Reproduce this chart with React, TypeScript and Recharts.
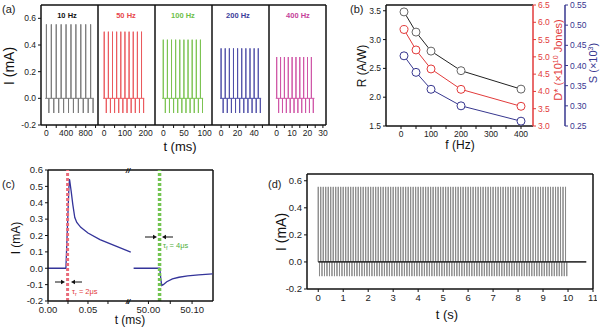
import React from 'react';
import { LineChart, Line, XAxis, YAxis, ReferenceLine } from 'recharts';

type Row = { t: number; i: number };

const FONT = '"Liberation Sans", Arial, sans-serif';

// ---- panel (a): pulse trains at different frequencies
const freqLabels = ['10 Hz', '50 Hz', '100 Hz', '200 Hz', '400 Hz'];
const freqColors = ['#7a7a7a', '#ea5a5e', '#7cc352', '#5050a8', '#cf55a6'];
const labelColors = ['#111111', '#e8474c', '#6cc04a', '#3c3c9a', '#c53f9a'];
const peaksA = [0.555, 0.5, 0.44, 0.375, 0.31];
const dipsA = [-0.11, -0.11, -0.11, -0.11, -0.11];
const onTimesA = [
  [0, 100, 200, 300, 400, 500, 600, 700, 800, 900],
  [0, 20, 40, 60, 80, 100, 120, 140, 160, 180],
  [0, 10, 20, 30, 40, 50, 60, 70, 80, 90],
  [0, 5, 10, 15, 20, 25, 30, 35, 40, 45],
  [0, 2.5, 5, 7.5, 10, 12.5, 15, 17.5, 20, 22.5],
];
const offDelayA = [50, 10, 5, 2.5, 1.25];
const baseStartA = [-25, -5, -2.5, -1.2, -0.6];
const baseEndA = [965, 193, 96.5, 48.5, 24.5];
const domainA: [number, number][] = [[-110, 1050], [-30, 245], [-20, 118], [-11, 58], [-5, 32]];
const xTicksA = [
  [0, 200, 400, 600, 800, 1000],
  [0, 50, 100, 150, 200],
  [0, 25, 50, 75, 100],
  [0, 10, 20, 30, 40, 50],
  [0, 5, 10, 15, 20, 25, 30],
];
const xLabelsA = [[0, 400, 800], [0, 100, 200], [0, 50, 100], [0, 20, 40], [0, 10, 20, 30]];
const yTicksA = [-0.2, 0, 0.2, 0.4, 0.6];

// ---- panel (b): figures of merit vs frequency
const freqB = [10, 50, 100, 200, 400];
const responsivity = [3.48, 3.13, 2.8, 2.46, 2.14];
const detectivity = [5.79, 5.2, 4.65, 4.06, 3.57];
const sensitivity = [0.424, 0.383, 0.341, 0.3, 0.262];

// ---- panel (c): rise / fall of a single pulse
const riseT = [0, 0.0224, 0.0262, 0.0269, 0.029, 0.031, 0.0335, 0.036, 0.041, 0.05, 0.065, 0.085, 0.1035];
const riseI = [0, 0, 0.5, 0.545, 0.47, 0.39, 0.31, 0.28, 0.25, 0.215, 0.175, 0.135, 0.098];
const fallT = [49.966, 50.026, 50.0285, 50.0305, 50.034, 50.042, 50.055, 50.07, 50.09, 50.115, 50.147];
const fallI = [0, 0, -0.07, -0.105, -0.1, -0.082, -0.065, -0.055, -0.047, -0.04, -0.034];
const riseMark = 0.0245;
const fallMark = 50.0255;

// ---- panel (d): 10 s train at 10 Hz
const onTimesD = [
  0, 0.1, 0.2, 0.3, 0.4, 0.5, 0.6, 0.7, 0.8, 0.9,
  1.0, 1.1, 1.2, 1.3, 1.4, 1.5, 1.6, 1.7, 1.8, 1.9,
  2.0, 2.1, 2.2, 2.3, 2.4, 2.5, 2.6, 2.7, 2.8, 2.9,
  3.0, 3.1, 3.2, 3.3, 3.4, 3.5, 3.6, 3.7, 3.8, 3.9,
  4.0, 4.1, 4.2, 4.3, 4.4, 4.5, 4.6, 4.7, 4.8, 4.9,
  5.0, 5.1, 5.2, 5.3, 5.4, 5.5, 5.6, 5.7, 5.8, 5.9,
  6.0, 6.1, 6.2, 6.3, 6.4, 6.5, 6.6, 6.7, 6.8, 6.9,
  7.0, 7.1, 7.2, 7.3, 7.4, 7.5, 7.6, 7.7, 7.8, 7.9,
  8.0, 8.1, 8.2, 8.3, 8.4, 8.5, 8.6, 8.7, 8.8, 8.9,
  9.0, 9.1, 9.2, 9.3, 9.4, 9.5, 9.6, 9.7, 9.8, 9.9,
];
const peakD = 0.555;
const dipD = -0.105;
const offDelayD = 0.05;
const baseEndD = 10.73;
const xTicksD = [0, 1, 2, 3, 4, 5, 6, 7, 8, 9, 10, 11];

const buildPulses = (
  onTimes: number[],
  offDelay: number,
  peak: number,
  dip: number,
  start: number,
  end: number
): Row[] => {
  const rows: Row[] = [{ t: start, i: 0 }];
  onTimes.forEach((t) => {
    const off = t + offDelay;
    rows.push({ t, i: 0 }, { t, i: peak }, { t, i: 0 });
    rows.push({ t: off, i: 0 }, { t: off, i: dip }, { t: off, i: 0 });
  });
  rows.push({ t: end, i: 0 });
  return rows;
};

const zip = (ts: number[], is: number[]): Row[] => ts.map((t, k) => ({ t, i: is[k] }));

const fmt1 = (v: number) => v.toFixed(1);
const axisLine = { stroke: '#111', strokeWidth: 1.5 };
const tickLine = { stroke: '#111' };
const tickA = { fontSize: 8.5, fill: '#222', fontFamily: FONT };
const tickB = { fontSize: 8.5, fill: '#222', fontFamily: FONT };
const tickC = { fontSize: 9.5, fill: '#222', fontFamily: FONT };

// bottom-axis tick that only writes text for the labelled (major) values
const majorTick = (labels: number[], style: any, fmt: (v: number) => string) => (props: any) => {
  const { x, y, payload } = props;
  if (!labels.includes(payload.value)) return <g />;
  return (
    <text x={x} y={y} dy="0.75em" textAnchor="middle" {...style}>
      {fmt(payload.value)}
    </text>
  );
};

// top / right edge of the frame
const edgeX = (x: number, yId: string | number = 0) => (
  <ReferenceLine x={x} yAxisId={yId} stroke="#111" strokeWidth={1.5} />
);
const edgeY = (y: number, yId: string | number = 0) => (
  <ReferenceLine y={y} yAxisId={yId} stroke="#111" strokeWidth={1.5} />
);

const PulseSubplot = ({ k }: { k: number }) => {
  const first = k === 0;
  const plotLeft = 41 + 57 * k;
  const yw = first ? 28 : 0;
  const data = buildPulses(onTimesA[k], offDelayA[k], peaksA[k], dipsA[k], baseStartA[k], baseEndA[k]);
  return (
    <div style={{ position: 'absolute', left: plotLeft - yw - 2, top: 0 }}>
      <LineChart width={yw + 2 + 57 + 2} height={141} margin={{ top: 5, right: 2, left: 2, bottom: 0 }}>
        <XAxis
          dataKey="t"
          type="number"
          domain={domainA[k]}
          ticks={xTicksA[k]}
          interval={0}
          allowDataOverflow
          height={16}
          axisLine={axisLine}
          tickLine={tickLine}
          tickSize={3}
          tickMargin={2}
          tick={majorTick(xLabelsA[k], tickA, String)}
        />
        <YAxis
          type="number"
          domain={[-0.2, 0.7]}
          ticks={yTicksA}
          interval={0}
          width={yw}
          axisLine={axisLine}
          tickLine={tickLine}
          tickSize={3}
          tickMargin={2}
          mirror={!first}
          tick={first ? tickA : false}
          tickFormatter={fmt1}
        />
        <Line
          data={data}
          dataKey="i"
          type="linear"
          stroke={freqColors[k]}
          strokeWidth={1}
          dot={false}
          isAnimationActive={false}
        />
        {edgeY(0.7)}
        {edgeX(domainA[k][1])}
      </LineChart>
    </div>
  );
};

const MeritChart = () => {
  const rows = freqB.map((f, k) => ({ f, R: responsivity[k], D: detectivity[k], S: sensitivity[k] }));
  const red = '#e23b3b';
  const blue = '#37378f';
  return (
    <div style={{ position: 'absolute', left: 352, top: 0 }}>
      <LineChart width={248} height={144} data={rows} margin={{ top: 5, right: 0, left: 4, bottom: 0 }}>
        <XAxis
          dataKey="f"
          type="number"
          domain={[-50, 440]}
          ticks={[0, 50, 100, 150, 200, 250, 300, 350, 400]}
          interval={0}
          height={18}
          axisLine={axisLine}
          tickLine={tickLine}
          tickSize={3}
          tickMargin={2}
          tick={majorTick([0, 100, 200, 300, 400], tickB, String)}
        />
        <YAxis
          yAxisId="r"
          type="number"
          domain={[1.5, 3.6]}
          ticks={[1.5, 2, 2.5, 3, 3.5]}
          interval={0}
          width={30}
          axisLine={axisLine}
          tickLine={tickLine}
          tickSize={3}
          tickMargin={2}
          tick={tickB}
          tickFormatter={fmt1}
        />
        <YAxis
          yAxisId="d"
          orientation="right"
          type="number"
          domain={[3, 6.5]}
          ticks={[3, 3.5, 4, 4.5, 5, 5.5, 6, 6.5]}
          interval={0}
          width={32}
          axisLine={{ stroke: red, strokeWidth: 1.5 }}
          tickLine={{ stroke: red }}
          tickSize={3}
          tickMargin={2}
          tick={{ ...tickB, fill: red }}
          tickFormatter={fmt1}
        />
        <YAxis
          yAxisId="s"
          orientation="right"
          type="number"
          domain={[0.25, 0.55]}
          ticks={[0.25, 0.3, 0.35, 0.4, 0.45, 0.5, 0.55]}
          interval={0}
          width={35}
          axisLine={{ stroke: blue, strokeWidth: 1.5 }}
          tickLine={{ stroke: blue }}
          tickSize={3}
          tickMargin={2}
          tick={{ ...tickB, fill: blue }}
          tickFormatter={(v: number) => v.toFixed(2)}
        />
        {edgeY(3.6, 'r')}
        <Line yAxisId="r" dataKey="R" stroke="#222" strokeWidth={1} dot={{ r: 4, fill: '#fff', stroke: '#666', strokeWidth: 1 }} isAnimationActive={false} />
        <Line yAxisId="d" dataKey="D" stroke={red} strokeWidth={1} dot={{ r: 4, fill: '#fff', stroke: red, strokeWidth: 1 }} isAnimationActive={false} />
        <Line yAxisId="s" dataKey="S" stroke={blue} strokeWidth={1} dot={{ r: 4, fill: '#fff', stroke: blue, strokeWidth: 1 }} isAnimationActive={false} />
      </LineChart>
    </div>
  );
};

const yTicksC = [-0.2, -0.1, 0, 0.1, 0.2, 0.3, 0.4, 0.5, 0.6];

const RiseChart = () => {
  const data = zip(riseT, riseI);
  return (
    <div style={{ position: 'absolute', left: 16, top: 165 }}>
      <LineChart width={115} height={154} margin={{ top: 5, right: 0, left: 2, bottom: 0 }}>
        <XAxis
          dataKey="t"
          type="number"
          domain={[0, 0.1038]}
          ticks={[0, 0.025, 0.05, 0.075, 0.1]}
          interval={0}
          height={18}
          axisLine={axisLine}
          tickLine={tickLine}
          tickSize={3}
          tickMargin={2}
          tick={majorTick([0, 0.05], tickC, (v) => v.toFixed(2))}
        />
        <YAxis
          type="number"
          domain={[-0.2, 0.6]}
          ticks={yTicksC}
          interval={0}
          width={30}
          axisLine={axisLine}
          tickLine={tickLine}
          tickSize={3}
          tickMargin={2}
          tick={tickC}
          tickFormatter={fmt1}
        />
        {edgeY(0.6)}
        <Line data={data} dataKey="i" type="linear" stroke="#34349a" strokeWidth={1.3} dot={false} isAnimationActive={false} />
        <ReferenceLine x={riseMark} stroke="#e96b7a" strokeWidth={3} strokeDasharray="3 2" />
      </LineChart>
    </div>
  );
};

const FallChart = () => {
  const data = zip(fallT, fallI);
  return (
    <div style={{ position: 'absolute', left: 131, top: 165 }}>
      <LineChart width={85} height={154} margin={{ top: 5, right: 3, left: 0, bottom: 0 }}>
        <XAxis
          dataKey="t"
          type="number"
          domain={[49.96, 50.148]}
          ticks={[50, 50.05, 50.1]}
          interval={0}
          height={18}
          axisLine={axisLine}
          tickLine={tickLine}
          tickSize={3}
          tickMargin={2}
          tick={majorTick([50, 50.1], tickC, (v) => v.toFixed(2))}
        />
        <YAxis type="number" domain={[-0.2, 0.6]} hide />
        {edgeY(0.6)}
        {edgeX(50.148)}
        <Line data={data} dataKey="i" type="linear" stroke="#34349a" strokeWidth={1.3} dot={false} isAnimationActive={false} />
        <ReferenceLine x={fallMark} stroke="#72c450" strokeWidth={3.5} strokeDasharray="3 2" />
      </LineChart>
    </div>
  );
};

const TrainChart = () => {
  const data = buildPulses(onTimesD, offDelayD, peakD, dipD, 0, baseEndD);
  const base: Row[] = [{ t: 0, i: 0 }, { t: baseEndD, i: 0 }];
  return (
    <div style={{ position: 'absolute', left: 275, top: 169 }}>
      <LineChart width={322} height={138} margin={{ top: 5, right: 4, left: 2, bottom: 0 }}>
        <XAxis
          dataKey="t"
          type="number"
          domain={[-0.45, 11]}
          ticks={xTicksD}
          interval={0}
          height={18}
          axisLine={axisLine}
          tickLine={tickLine}
          tickSize={3}
          tickMargin={2}
          tick={tickC}
        />
        <YAxis
          type="number"
          domain={[-0.2, 0.65]}
          ticks={yTicksA}
          interval={0}
          width={30}
          axisLine={axisLine}
          tickLine={tickLine}
          tickSize={3}
          tickMargin={2}
          tick={tickC}
          tickFormatter={fmt1}
        />
        {edgeY(0.65)}
        {edgeX(11)}
        <Line data={data} dataKey="i" type="linear" stroke="#8a8a8a" strokeWidth={1} dot={false} isAnimationActive={false} />
        <Line data={base} dataKey="i" type="linear" stroke="#111" strokeWidth={1.3} dot={false} isAnimationActive={false} />
      </LineChart>
    </div>
  );
};

const Arrow = ({ x1, x2, y }: { x1: number; x2: number; y: number }) => {
  const dir = x2 > x1 ? 1 : -1;
  return (
    <g stroke="#111" fill="#111">
      <line x1={x1} y1={y} x2={x2 - dir * 2} y2={y} strokeWidth={1} />
      <polygon points={`${x2},${y} ${x2 - dir * 4},${y - 2.2} ${x2 - dir * 4},${y + 2.2}`} stroke="none" />
    </g>
  );
};

const Labels = () => (
  <svg width={600} height={330} style={{ position: 'absolute', left: 0, top: 0, pointerEvents: 'none' }} fontFamily={FONT}>
    <text x={2} y={13} fontSize={11} fill="#222">(a)</text>
    <text x={350} y={13} fontSize={11} fill="#222">(b)</text>
    <text x={2} y={188} fontSize={11} fill="#222">(c)</text>
    <text x={268} y={188} fontSize={11} fill="#222">(d)</text>

    {freqLabels.map((l, k) => (
      <text key={l} x={[67, 126, 183, 238, 298][k]} y={18} fontSize={7.5} fontWeight="bold" textAnchor="middle" fill={labelColors[k]}>
        {l}
      </text>
    ))}
    <text transform="translate(14,66) rotate(-90)" fontSize={14} textAnchor="middle" fill="#111">I (mA)</text>
    <text x={180} y={151} fontSize={13} textAnchor="middle" fill="#111">t (ms)</text>

    <text transform="translate(366,66) rotate(-90)" fontSize={12} textAnchor="middle" fill="#111">R (A/W)</text>
    <text x={460} y={149} fontSize={12} textAnchor="middle" fill="#111">f (Hz)</text>
    <text transform="translate(562,60) rotate(-90)" fontSize={11} textAnchor="middle" fill="#e23b3b">
      D* (×10<tspan dy={-4} fontSize={7}>10</tspan><tspan dy={4}> Jones)</tspan>
    </text>
    <text transform="translate(597,63) rotate(-90)" fontSize={11} textAnchor="middle" fill="#37378f">
      S (×10<tspan dy={-4} fontSize={7}>3</tspan><tspan dy={4}>)</tspan>
    </text>

    <text transform="translate(20,238) rotate(-90)" fontSize={12} textAnchor="middle" fill="#111">I (mA)</text>
    <text x={130} y={324} fontSize={12} textAnchor="middle" fill="#111">t (ms)</text>
    <text x={128} y={173} fontSize={8} fontStyle="italic" fontWeight="bold" textAnchor="middle" fill="#111">//</text>
    <text x={128} y={304} fontSize={8} fontStyle="italic" fontWeight="bold" textAnchor="middle" fill="#111">//</text>
    <Arrow x1={55} x2={65} y={282} />
    <Arrow x1={82} x2={71} y={282} />
    <text x={72} y={294} fontSize={7.5} fill="#e23b3b">
      τ<tspan dy={2} fontSize={5.5}>r</tspan><tspan dy={-2}> = 2μs</tspan>
    </text>
    <Arrow x1={145} x2={157} y={237} />
    <Arrow x1={173} x2={162} y={237} />
    <text x={163} y={248} fontSize={7.5} fill="#4fae3a">
      τ<tspan dy={2} fontSize={5.5}>f</tspan><tspan dy={-2}> = 4μs</tspan>
    </text>

    <text transform="translate(286,232) rotate(-90)" fontSize={14} textAnchor="middle" fill="#111">I (mA)</text>
    <text x={447} y={319} fontSize={13} textAnchor="middle" fill="#111">t (s)</text>
  </svg>
);

export default function App() {
  return (
    <div style={{ position: 'absolute', left: 0, top: 0, width: 600, height: 330, background: '#fff', fontFamily: FONT }}>
      {[0, 1, 2, 3, 4].map((k) => (
        <PulseSubplot key={k} k={k} />
      ))}
      <MeritChart />
      <RiseChart />
      <FallChart />
      <TrainChart />
      <Labels />
    </div>
  );
}
